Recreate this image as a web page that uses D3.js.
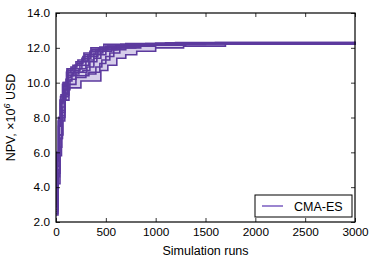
<!DOCTYPE html>
<html><head><meta charset="utf-8">
<script src="https://cdn.jsdelivr.net/npm/d3@7"></script>
<style>body{margin:0;background:#fff}svg{display:block}text{font-family:"Liberation Sans",Arial,sans-serif;fill:#000}</style>
</head><body><svg id="c" width="374" height="262"></svg>
<script>
const xTicks=[0,500,1000,1500,2000,2500,3000];
const yTicks=[2,4,6,8,10,12,14];
const seriesName="CMA-ES";
const run1=[[0,3.5],[10,6.0],[25,8.0],[50,9.3],[80,10.0],[110,10.8],[200,11.2],[280,11.7],[350,12.0],[480,12.2],[700,12.25],[1200,12.3],[3000,12.35]];
const run2=[[0,3.0],[12,5.5],[30,7.8],[60,9.0],[100,10.2],[120,10.8],[260,11.0],[330,11.5],[420,11.9],[600,12.15],[900,12.25],[1600,12.3],[3000,12.32]];
const run3=[[0,2.6],[18,4.8],[40,6.8],[65,8.3],[90,9.6],[140,10.2],[200,10.6],[310,10.9],[380,11.4],[450,11.8],[560,12.0],[800,12.2],[1300,12.26],[3000,12.29]];
const run4=[[0,2.4],[20,4.2],[40,5.8],[55,7.0],[70,8.0],[90,9.0],[130,9.7],[250,10.1],[450,10.7],[520,11.0],[610,11.4],[700,11.6],[810,11.8],[1000,12.0],[1280,12.1],[1700,12.22],[3000,12.27]];
const run5=[[0,3.2],[10,5.8],[25,7.5],[45,8.8],[70,9.8],[110,10.5],[180,10.7],[240,11.2],[320,11.6],[400,11.9],[520,12.1],[750,12.2],[1100,12.27],[3000,12.33]];
const run6=[[0,2.8],[15,5.2],[30,7.0],[55,8.4],[85,9.4],[115,10.1],[160,10.5],[230,10.8],[300,11.3],[380,11.7],[470,12.0],[650,12.15],[1000,12.24],[3000,12.3]];
const run7=[[0,3.0],[10,5.6],[30,7.6],[50,8.9],[75,9.6],[110,10.3],[150,10.4],[330,10.6],[440,11.1],[500,11.5],[580,11.9],[700,12.1],[1000,12.22],[3000,12.31]];
const run8=[[0,2.7],[20,5.0],[35,7.0],[60,8.6],[90,9.9],[120,10.6],[190,11.0],[260,11.4],[350,11.8],[430,12.0],[600,12.18],[1000,12.26],[3000,12.34]];
const run9=[[0,3.3],[12,6.0],[28,8.0],[45,9.2],[70,10.0],[110,10.7],[170,11.0],[220,11.3],[290,11.6],[360,11.9],[500,12.1],[800,12.22],[1400,12.29],[3000,12.36]];
const run10=[[0,2.9],[18,5.0],[35,6.8],[60,8.1],[85,9.3],[130,9.9],[200,10.3],[300,10.5],[400,10.9],[460,11.3],[540,11.7],[640,12.0],[850,12.15],[1300,12.24],[3000,12.3]];
const run11=[[0,3.1],[10,5.9],[22,7.8],[40,9.0],[65,9.9],[105,10.6],[150,10.9],[210,11.1],[270,11.5],[340,11.8],[440,12.05],[650,12.2],[1100,12.28],[3000,12.33]];
const run12=[[0,2.5],[18,4.6],[36,6.3],[58,7.8],[88,9.2],[125,10.4],[170,10.6],[270,10.7],[340,11.2],[410,11.6],[500,11.9],[620,12.1],[900,12.2],[1500,12.27],[3000,12.32]];
const runs=[run1,run2,run3,run4,run5,run6,run7,run8,run9,run10,run11,run12];

const svg=d3.select("#c");
const L=56,R=355,T=13,B=222;
const x=d3.scaleLinear().domain([0,3000]).range([L,R]);
const y=d3.scaleLinear().domain([2,14]).range([B,T]);
const lineCol="#5c3a9e";

const xs=Array.from(new Set(runs.flatMap(r=>r.map(p=>p[0])))).sort((a,b)=>a-b);
const valAt=(r,xv)=>{let v=r[0][1];for(const p of r){if(p[0]<=xv)v=p[1];}return v;};
const band=xs.map(xv=>{const vs=runs.map(r=>valAt(r,xv));return [xv,d3.min(vs),d3.max(vs)];});
svg.append("path").datum(band)
  .attr("d",d3.area().x(d=>x(d[0])).y0(d=>y(d[1])).y1(d=>y(d[2])).curve(d3.curveStepAfter))
  .attr("fill","#d6cdea");

const line=d3.line().x(d=>x(d[0])).y(d=>y(d[1])).curve(d3.curveStepAfter);
runs.forEach(r=>{
  svg.append("path").datum(r).attr("d",line).attr("fill","none")
    .attr("stroke",lineCol).attr("stroke-width",1.6).attr("stroke-linejoin","miter");
});

svg.append("rect").attr("x",L).attr("y",T).attr("width",R-L).attr("height",B-T)
  .attr("fill","none").attr("stroke","#000").attr("stroke-width",1.2);

const fmtY=d=>d.toFixed(1);
const fmtX=d3.format("d");
const gx=svg.append("g").attr("transform",`translate(0,${B})`)
  .call(d3.axisBottom(x).tickValues(xTicks).tickFormat(fmtX).tickSizeInner(-4).tickSizeOuter(0).tickPadding(6));
const gxt=svg.append("g").attr("transform",`translate(0,${T})`)
  .call(d3.axisTop(x).tickValues(xTicks).tickSizeInner(-4).tickSizeOuter(0).tickFormat(""));
const gy=svg.append("g").attr("transform",`translate(${L},0)`)
  .call(d3.axisLeft(y).tickValues(yTicks).tickFormat(fmtY).tickSizeInner(-4).tickSizeOuter(0).tickPadding(6));
const gyr=svg.append("g").attr("transform",`translate(${R},0)`)
  .call(d3.axisRight(y).tickValues(yTicks).tickSizeInner(-4).tickSizeOuter(0).tickFormat(""));
[gx,gxt,gy,gyr].forEach(g=>{g.select(".domain").remove();g.selectAll("line").attr("stroke","#000").attr("stroke-width",0.8);
  g.selectAll("text").style("font-family","'Liberation Sans',Arial,sans-serif").style("font-size","11.8px").attr("fill","#000");});

svg.append("text").attr("x",(L+R)/2).attr("y",255).attr("text-anchor","middle").style("font-size","12.5px").text("Simulation runs");
const yl=svg.append("text").attr("transform",`translate(15,${(T+B)/2}) rotate(-90)`).attr("text-anchor","middle").style("font-size","12.5px");
yl.append("tspan").text("NPV, ×10");
yl.append("tspan").attr("dy",-5).style("font-size","9px").style("font-style","italic").text("6");
yl.append("tspan").attr("dy",5).text(" USD");

const lg=svg.append("g");
lg.append("rect").attr("x",255).attr("y",195).attr("width",97).attr("height",22).attr("fill","#fff").attr("stroke","#000").attr("stroke-width",1);
lg.append("line").attr("x1",262).attr("x2",283).attr("y1",206).attr("y2",206).attr("stroke","#7a5cc0").attr("stroke-width",1.5);
lg.append("text").attr("x",294).attr("y",210.5).style("font-size","12.5px").text(seriesName);
</script></body></html>
